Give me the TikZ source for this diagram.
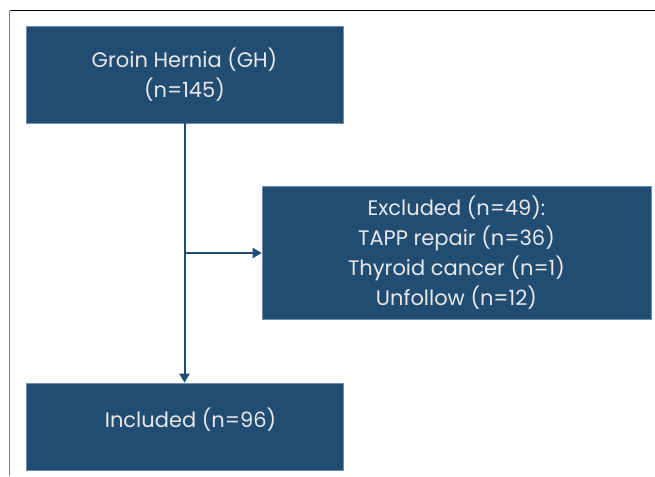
\documentclass[tikz,border=0pt]{standalone}
\usepackage{fontspec}
\setmainfont{Poppins}
\usetikzlibrary{arrows.meta}
\definecolor{boxblue}{HTML}{214D73}
\definecolor{boxedge}{HTML}{6C8FB3}
\definecolor{txtgray}{HTML}{E8E8E8}
\tikzset{
  flowbox/.style={rectangle, fill=boxblue, draw=boxedge, line width=0.6pt, inner sep=0pt,
    text=txtgray, align=center, font=\fontsize{21}{30}\selectfont},
  flowarrow/.style={draw=boxblue, line width=2pt, -{Triangle[length=9pt,width=10pt]}}
}
\begin{document}
\begin{tikzpicture}[x=1pt,y=-1pt]
\useasboundingbox (0,0) rectangle (655,476);
\fill[white] (0,0) rectangle (655,476);
\draw[black, line width=1pt] (9.5,11) -- (655,11);
\draw[gray, line width=1.5pt] (9.5,11) -- (9.5,476);
\node[flowbox, minimum width=317pt, minimum height=97pt] (top) at (184.5,74.5) {Groin Hernia (GH)\\(n=145)};
\node[flowbox, minimum width=389pt, minimum height=133pt] (excl) at (456.5,252.5) {Excluded (n=49):\\TAPP repair (n=36)\\Thyroid cancer (n=1)\\Unfollow (n=12)};
\node[flowbox, minimum width=317pt, minimum height=87pt] (incl) at (184.5,426.5) {};
\node[text=txtgray, font=\fontsize{21}{30}\selectfont, inner sep=0pt] (incltxt) at (190.5,420) {Included (n=96)};
\coordinate (br) at (184.5,253);
\draw[flowarrow] (top.south) -- (incl.north);
\draw[flowarrow] (br) -- (excl.west |- br);
\end{tikzpicture}
\end{document}
